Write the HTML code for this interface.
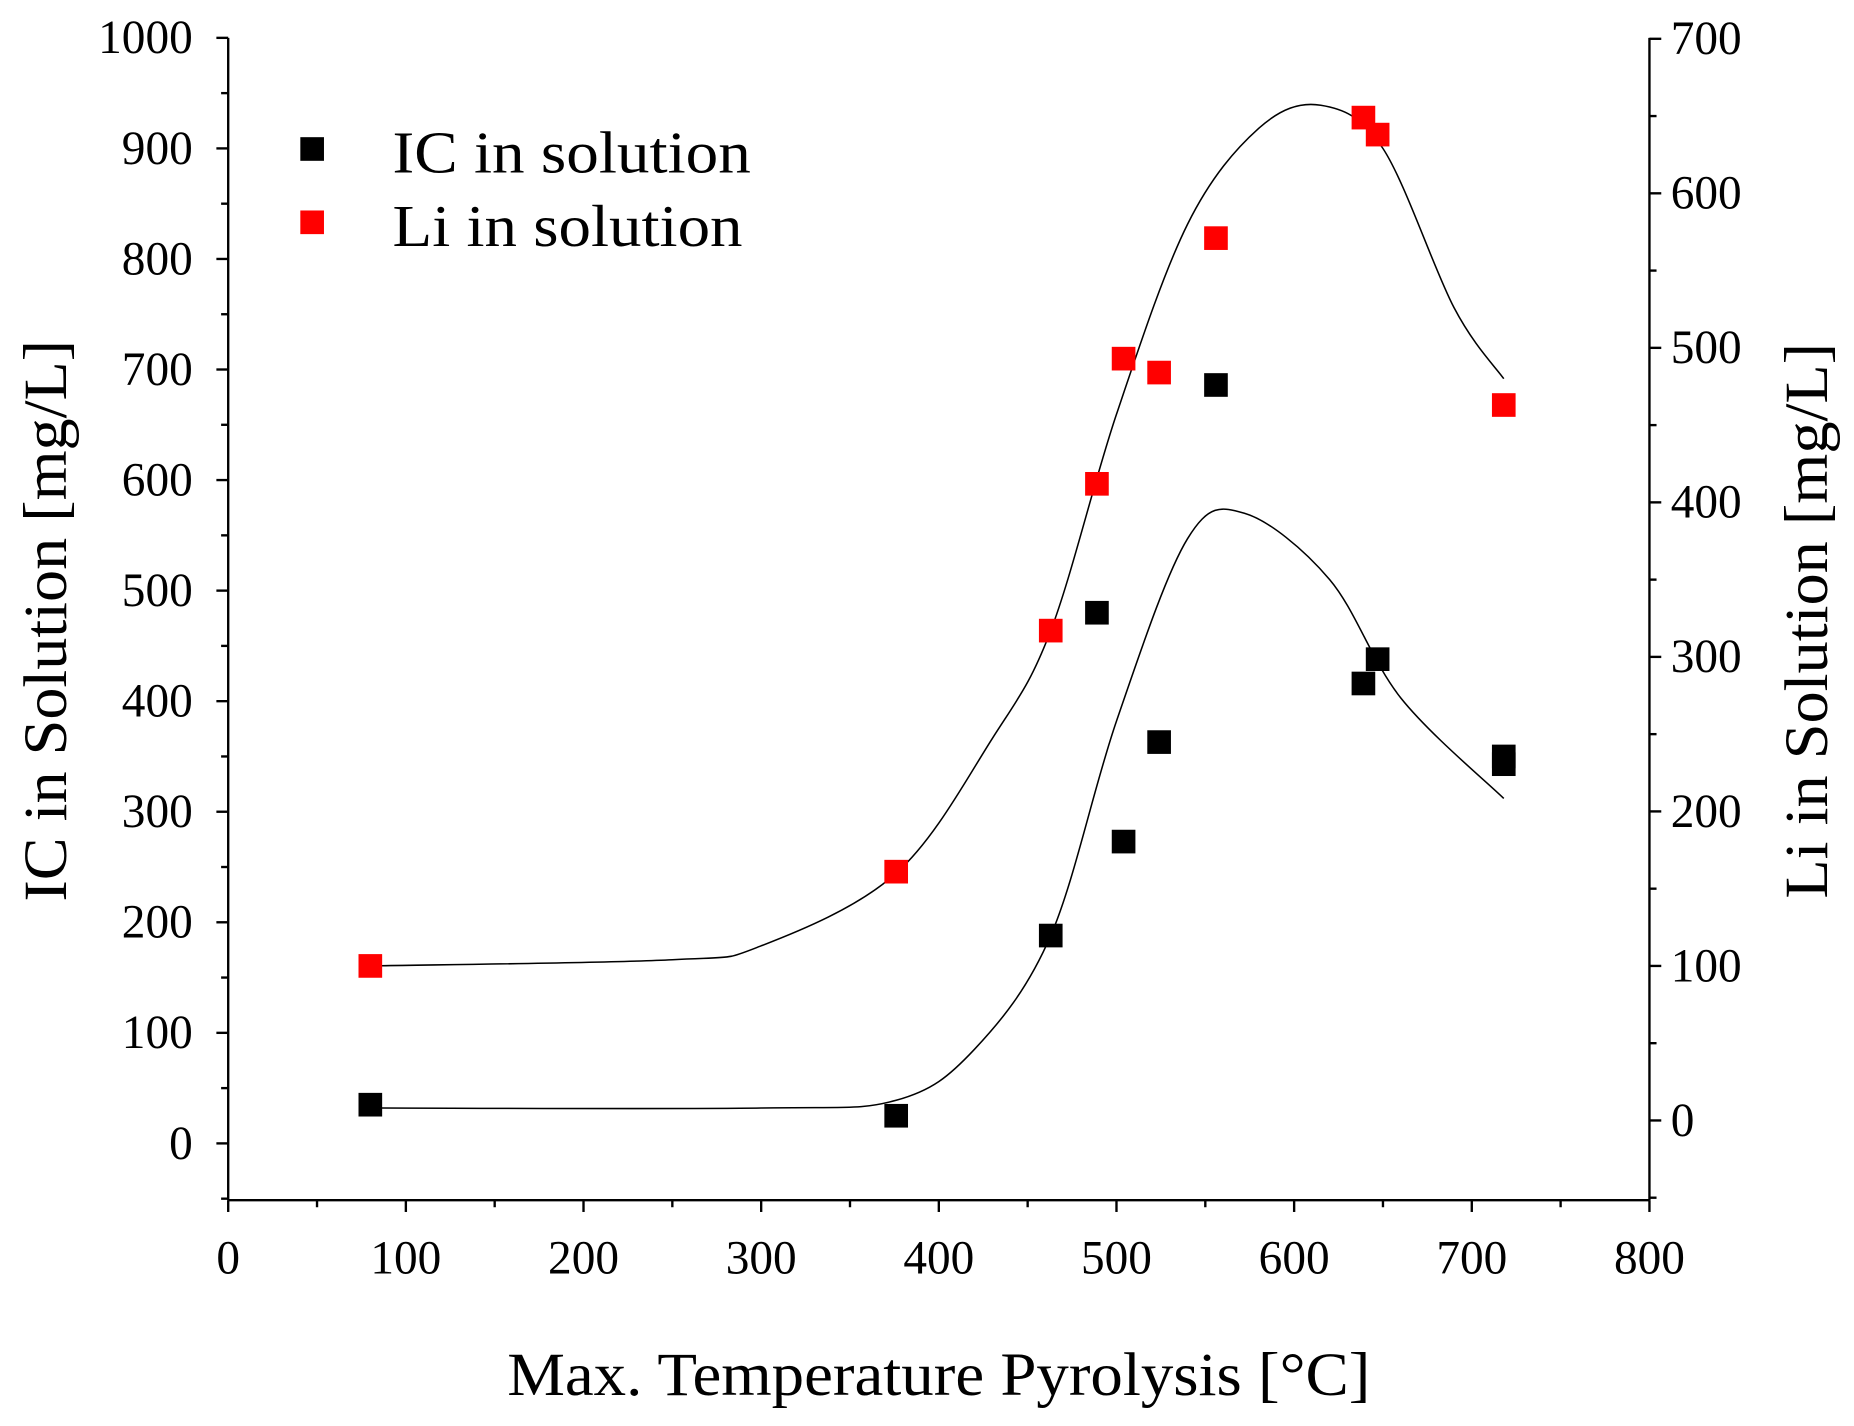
<!DOCTYPE html>
<html><head><meta charset="utf-8"><style>
html,body{margin:0;padding:0;background:#fff}
svg{display:block}
text{font-family:"Liberation Serif",serif;fill:#000}
</style></head><body>
<svg id="chart" width="1854" height="1426" viewBox="0 0 1568 1206" xmlns="http://www.w3.org/2000/svg">
<g id="axes"></g>
<g id="curves"></g>
<g id="marks"></g>
<text x="794" y="1180" font-size="52" text-anchor="middle" textLength="730" lengthAdjust="spacingAndGlyphs">Max. Temperature Pyrolysis [°C]</text>
<text transform="translate(56,525) rotate(-90)" font-size="52" text-anchor="middle" textLength="475" lengthAdjust="spacingAndGlyphs">IC in Solution [mg/L]</text>
<text transform="translate(1545,525) rotate(-90)" font-size="52" text-anchor="middle" textLength="470" lengthAdjust="spacingAndGlyphs">Li in Solution [mg/L]</text>
<g>
<rect x="254" y="116" width="20" height="20" fill="#000"/>
<text x="332" y="146" font-size="50" textLength="303" lengthAdjust="spacingAndGlyphs">IC in solution</text>
<rect x="254" y="178" width="20" height="20" fill="#f00"/>
<text x="332" y="208" font-size="50" textLength="296" lengthAdjust="spacingAndGlyphs">Li in solution</text>
</g>
</svg>
<script>
const icX=[80,376,463,489,504,524,556,639,647,718,718];
const icY=[35,25,188,480,273,363,686,416,438,350,343];
const liX=[80,376,463,489,504,524,556,639,647,718];
const liY=[100,161,317,412,493,484,571,649,638,463];
const icFitX=[80,300,376,420,463,500,540,572,620,660,718];
const icFitY=[32,32,39,85,188,382,547,570,510,403,312];
const liFitX=[80,250,300,376,430,463,500,540,580,615,650,690,718];
const liFitY=[100,104,113,160,247,317,457,580,642,657,629,526,480];
const xTicks=[0,100,200,300,400,500,600,700,800];
const yLTicks=[0,100,200,300,400,500,600,700,800,900,1000];
const yRTicks=[0,100,200,300,400,500,600,700];

const X=v=>193+v*(1395-193)/800;
const YL=v=>967-v*(967-32)/1000;
const YR=v=>947.6-v*(947.6-32.8)/700;
const NS='http://www.w3.org/2000/svg';
function mk(tag,parent){const e=document.createElementNS(NS,tag);document.getElementById(parent).appendChild(e);return e;}
function line(x1,y1,x2,y2,name){const l=mk('line','axes');l.setAttribute('x1',x1);l.setAttribute('y1',y1);l.setAttribute('x2',x2);l.setAttribute('y2',y2);l.setAttribute('stroke','#000');l.setAttribute('stroke-width','2');


return l;}
function txt(x,y,s,anchor,name){const t=mk('text','axes');t.setAttribute('x',x);t.setAttribute('y',y);t.setAttribute('font-size','40');t.setAttribute('text-anchor',anchor);t.textContent=s;

}
const yBot=1015,yTop=32;
line(193,yTop,193,yBot,'left-axis-line');
line(1395,yTop,1395,yBot,'right-axis-line');
line(193,yBot,1395,yBot,'x-axis-line');
xTicks.forEach(v=>{line(X(v),yBot,X(v),yBot+10,'x-tick');txt(X(v),yBot+62,v,'middle','x-tick-label');});
for(let v=50;v<800;v+=100)line(X(v),yBot,X(v),yBot+6,'x-minor-tick');
yLTicks.forEach(v=>{line(183,YL(v),193,YL(v),'left-y-tick');txt(163,YL(v)+13,v,'end','left-y-tick-label');});
for(let v=-50;v<1000;v+=100)line(187,YL(v),193,YL(v),'left-y-minor-tick');
yRTicks.forEach(v=>{line(1395,YR(v),1405,YR(v),'right-y-tick');txt(1413,YR(v)+13,v,'start','right-y-tick-label');});
for(let v=-50;v<700;v+=100)line(1395,YR(v),1401,YR(v),'right-y-minor-tick');

function spline(xs,ys,Yf){let pts=xs.map((x,i)=>[X(x),Yf(ys[i])]);let d='M'+pts[0][0]+','+pts[0][1];
for(let i=0;i<pts.length-1;i++){const p0=pts[Math.max(0,i-1)],p1=pts[i],p2=pts[i+1],p3=pts[Math.min(pts.length-1,i+2)];
d+=' C'+(p1[0]+(p2[0]-p0[0])/6)+','+(p1[1]+(p2[1]-p0[1])/6)+' '+(p2[0]-(p3[0]-p1[0])/6)+','+(p2[1]-(p3[1]-p1[1])/6)+' '+p2[0]+','+p2[1];}return d;}
const c1=mk('path','curves');c1.setAttribute('d',spline(icFitX,icFitY,YL));c1.setAttribute('fill','none');c1.setAttribute('stroke','#000');c1.setAttribute('stroke-width','1.3');


const c2=mk('path','curves');c2.setAttribute('d',spline(liFitX,liFitY,YR));c2.setAttribute('fill','none');c2.setAttribute('stroke','#000');c2.setAttribute('stroke-width','1.3');


icX.forEach((x,i)=>{const r=mk('rect','marks');r.setAttribute('x',X(x)-10);r.setAttribute('y',YL(icY[i])-10);r.setAttribute('width',20);r.setAttribute('height',20);r.setAttribute('fill','#000');

});
liX.forEach((x,i)=>{const r=mk('rect','marks');r.setAttribute('x',X(x)-10);r.setAttribute('y',YR(liY[i])-10);r.setAttribute('width',20);r.setAttribute('height',20);r.setAttribute('fill','#f00');

});
</script>
</body></html>
